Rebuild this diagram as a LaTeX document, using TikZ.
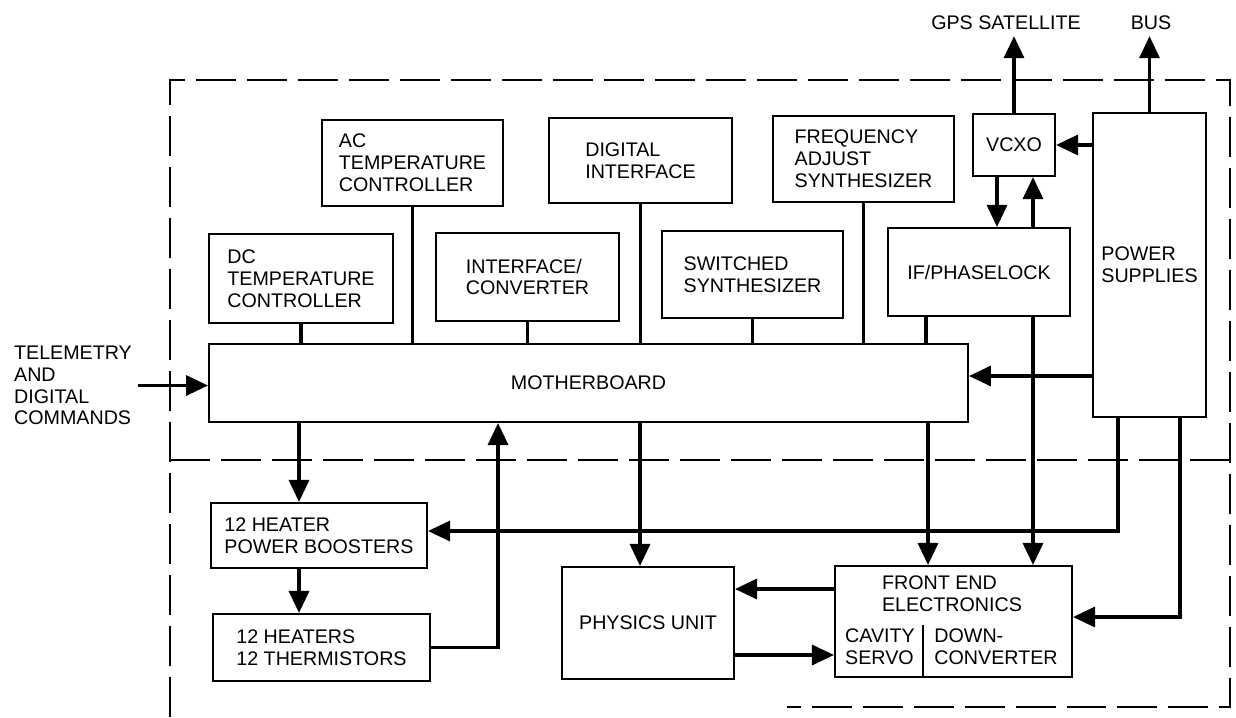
\documentclass[tikz,border=0pt]{standalone}
\usepackage{fontspec}
\setmainfont{Liberation Sans}
\usepackage{tikz}
\usetikzlibrary{arrows.meta,calc}

\begin{document}
\begin{tikzpicture}[x=0.02cm,y=-0.02cm,
  font=\fontsize{11.2}{12.4}\selectfont,
  blk/.style={draw,line width=1.2pt,align=left,inner sep=0pt},
  conn/.style={line width=1.9pt,-{Triangle[length=0.44cm,width=0.4cm]}},
  wire/.style={line width=1.9pt},
  bound/.style={line width=1.1pt,dash pattern=on 0.8cm off 0.22cm}]
              \useasboundingbox(0,0)rectangle(1236,717);
              \draw[bound](170,717)--(170,80)--(1230,80)--(1230,707)--(787,707);
              \draw[bound](170,460)--(1230,460);
              \node[blk,minimum width=3.62cm,minimum height=1.72cm](ac)at(412.5,163){AC\\TEMPERATURE\\CONTROLLER};
              \node[blk,minimum width=3.68cm,minimum height=1.78cm](dc)at(301,278.5){DC\\TEMPERATURE\\CONTROLLER};
              \node[blk,minimum width=3.66cm,minimum height=1.76cm](ic)at(527.5,277){INTERFACE/\\CONVERTER};
              \node[blk,minimum width=3.66cm,minimum height=1.7cm](di)at(640.5,160.5){DIGITAL\\INTERFACE};
              \node[blk,minimum width=3.62cm,minimum height=1.74cm](ss)at(752.5,274.5){SWITCHED\\SYNTHESIZER};
              \node[blk,minimum width=3.62cm,minimum height=1.72cm](fa)at(863.5,159){FREQUENCY\\ADJUST\\SYNTHESIZER};
              \node[blk,minimum width=1.64cm,minimum height=1.24cm](vcxo)at(1014,145){VCXO};
              \node[blk,minimum width=3.64cm,minimum height=1.76cm](ifp)at(979,272){IF/PHASELOCK};
              \node[blk,minimum width=2.26cm,minimum height=6.08cm](ps)at(1149.5,265){POWER\\SUPPLIES};
              \node[blk,minimum width=15.18cm,minimum height=1.56cm](mb)at(588.5,383){MOTHERBOARD};
              \node[blk,minimum width=4.32cm,minimum height=1.3cm](hpb)at(319,535.5){12 HEATER\\POWER BOOSTERS};
              \node[blk,minimum width=4.34cm,minimum height=1.34cm](hts)at(321.5,647.5){12 HEATERS\\12 THERMISTORS};
              \node[blk,minimum width=3.44cm,minimum height=2.24cm](phys)at(648,623){PHYSICS UNIT};
              \node[blk,minimum width=4.74cm,minimum height=2.22cm](fe)at(953.5,621.5){};
              \node[align=left](fet)at(952,594){FRONT END\\ELECTRONICS};
              \node[align=left](cav)at(880,647){CAVITY\\SERVO};
              \node[align=left](dwn)at(996,647){DOWN-\\CONVERTER};
              \draw[line width=1.2pt]($(fe.south west)+(89,0)$)--++(0,-53);
              \node[align=left](tel)at(73,385.5){TELEMETRY\\AND\\DIGITAL\\COMMANDS};
              \node(gps)at(1006,23){GPS SATELLITE};
              \node(bus)at(1151,23){BUS};
              \coordinate(ifl)at([xshift=-1.06cm]ifp.south);
              \coordinate(vd)at([xshift=-0.34cm]vcxo.south);
              \coordinate(iu)at([xshift=1.08cm]ifp.north);
              \coordinate(idn)at([xshift=1.08cm]ifp.south);
              \coordinate(pm)at([yshift=0.14cm]mb.east);
              \coordinate(hx)at([xshift=-0.4cm]hpb.south);
              \coordinate(fb)at([xshift=-1.81cm]mb.south);
              \coordinate(pn)at([xshift=-0.16cm]phys.north);
              \coordinate(fn)at([xshift=-0.51cm]fe.north);
              \coordinate(psa)at([xshift=-0.63cm]ps.south);
              \coordinate(psb)at([xshift=0.61cm]ps.south);
              \coordinate(he)at([yshift=0.09cm]hpb.east);
              \coordinate(fee)at([yshift=0.09cm]fe.east);
              \coordinate(fw)at([yshift=0.65cm]fe.west);
              \coordinate(fs)at([yshift=-0.67cm]fe.west);
              \draw[wire](dc.south)--(dc.south|-mb.north);
              \draw[wire](ac.south)--(ac.south|-mb.north);
              \draw[wire](ic.south)--(ic.south|-mb.north);
              \draw[wire](di.south)--(di.south|-mb.north);
              \draw[wire](ss.south)--(ss.south|-mb.north);
              \draw[wire](fa.south)--(fa.south|-mb.north);
              \draw[wire](ifl)--(ifl|-mb.north);
              \draw[conn](tel.east)--(tel.east-|mb.west);
              \draw[conn](vcxo.north)--(vcxo.north|-gps.south);
              \draw[conn](ps.north)--(ps.north|-bus.south);
              \draw[conn](ps.west|-vcxo.east)--(vcxo.east);
              \draw[conn](vd)--(vd|-ifp.north);
              \draw[conn](iu)--(iu|-vcxo.south);
              \draw[conn](idn)--(idn|-fe.north);
              \draw[conn](ps.west|-pm)--(pm);
              \draw[conn](hx|-mb.south)--(hx|-hpb.north);
              \draw[conn](hx)--(hx|-hts.north);
              \draw[conn](hts.east)-|(fb);
              \draw[conn](pn|-mb.south)--(pn);
              \draw[conn](fn|-mb.south)--(fn);
              \draw[conn](psa)|-(he);
              \draw[conn](psb)|-(fee);
              \draw[conn](fw)--(fw-|phys.east);
              \draw[conn](fs-|phys.east)--(fs);
            \end{tikzpicture}
\end{document}
